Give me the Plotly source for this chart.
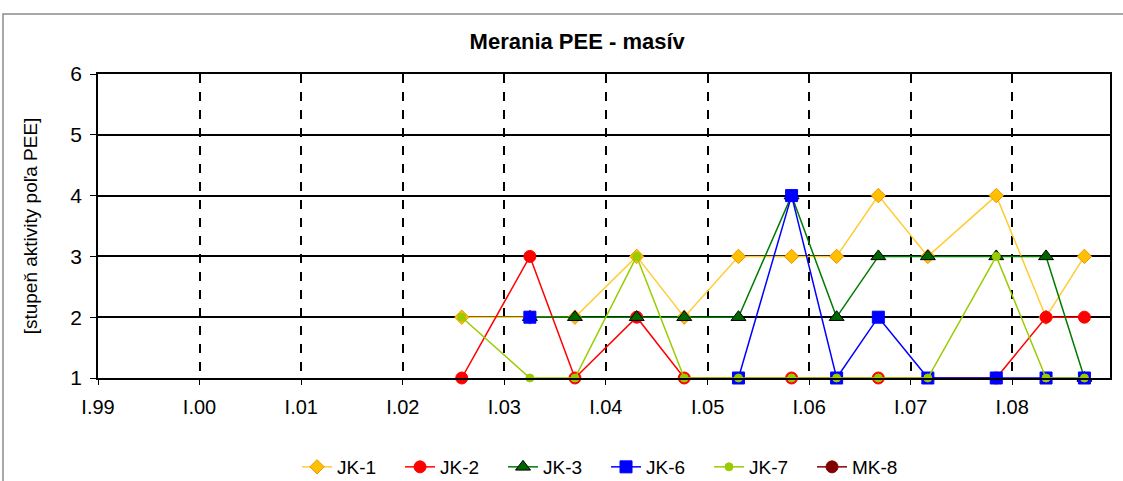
import plotly.graph_objects as go

dates = ['2002-08-01', '2003-04-03', '2003-09-12', '2004-04-21', '2004-10-09',
         '2005-04-22', '2005-10-30', '2006-04-10', '2006-09-07', '2007-03-04',
         '2007-11-05', '2008-05-02', '2008-09-17']
jk1 = [2, 2, 2, 3, 2, 3, 3, 3, 4, 3, 4, 2, 3]
jk2 = [1, 3, 1, 2, 1, None, 1, None, 1, None, 1, 2, 2]
jk3 = [None, 2, 2, 2, 2, 2, 4, 2, 3, 3, 3, 3, 1]
jk6 = [None, 2, None, None, None, 1, 4, 1, 2, 1, 1, 1, 1]
jk7 = [2, 1, 1, 3, 1, 1, 1, 1, 1, 1, 3, 1, 1]
mk8 = [None] * 13

tick_vals = ['1999-01-01', '2000-01-01', '2001-01-01', '2002-01-01', '2003-01-01',
             '2004-01-01', '2005-01-01', '2006-01-01', '2007-01-01', '2008-01-01']
tick_text = ['I.99', 'I.00', 'I.01', 'I.02', 'I.03', 'I.04', 'I.05', 'I.06', 'I.07', 'I.08']

FONT = "Arial, 'Liberation Sans', sans-serif"

fig = go.Figure()

def add(name, y, line_color, symbol, fill, outline, size, connect=False):
    fig.add_trace(go.Scatter(
        x=dates, y=y, name=name, mode='lines+markers', connectgaps=connect,
        line=dict(color=line_color, width=1.5),
        marker=dict(symbol=symbol, color=fill, size=size, line=dict(color=outline, width=1)),
        cliponaxis=False))

add('JK-1', jk1, '#FFCC33', 'diamond', '#FFC000', '#F09000', 11)
add('JK-2', jk2, '#FF0000', 'circle', '#FF0000', '#FF0000', 12, connect=True)
add('JK-3', jk3, '#007A00', 'triangle-up', '#006600', '#000000', 13)
add('JK-6', jk6, '#0000FF', 'square', '#0000FF', '#0000FF', 12)
add('JK-7', jk7, '#99CC00', 'circle', '#99CC00', '#99CC00', 8)
add('MK-8', mk8, '#800000', 'circle', '#800000', '#800000', 12)

fig.update_layout(
    width=1123, height=481,
    margin=dict(l=98, r=13, t=74, b=103, autoexpand=False),
    paper_bgcolor='white', plot_bgcolor='white',
    font=dict(family=FONT, color='#000000'),
    title=dict(text='<b>Merania PEE - masív</b>', x=0.514, xanchor='center',
               y=1 - 41 / 481, yanchor='middle', font=dict(size=22, family=FONT)),
    showlegend=True,
    legend=dict(orientation='h', x=0.502, xanchor='center', yref='container',
                y=1 - 467 / 481, yanchor='middle',
                font=dict(size=19, family=FONT), bgcolor='rgba(0,0,0,0)',
                entrywidth=58, tracegroupgap=0),
    xaxis=dict(type='date', range=['1999-01-01', '2008-12-18'],
               tickvals=tick_vals, ticktext=tick_text,
               tickfont=dict(size=20, family=FONT, color='#000000'),
               ticklabelstandoff=5,
               showgrid=True, gridcolor='#000000', gridwidth=1.5, griddash='dash',
               showline=True, linecolor='#000000', linewidth=1.5, mirror=True,
               ticks='outside', ticklen=5, tickcolor='#000000', zeroline=False,
               automargin=False),
    yaxis=dict(range=[1, 6], tickvals=[1, 2, 3, 4, 5, 6],
               tickfont=dict(size=21, family=FONT, color='#000000'),
               ticklabelstandoff=4,
               showgrid=True, gridcolor='#000000', gridwidth=1.5,
               showline=True, linecolor='#000000', linewidth=1.5, mirror=True,
               ticks='outside', ticklen=6, tickcolor='#000000', zeroline=False,
               automargin=False,
               title=dict(text='[stupeň aktivity poľa PEE]', standoff=28,
                          font=dict(size=19, family=FONT))),
)

fig.add_shape(type='rect', xref='paper', yref='paper',
              x0=(3 - 98) / 1012, x1=(1130 - 98) / 1012,
              y0=(378 - 490) / 304, y1=(378 - 14) / 304,
              line=dict(color='#8C8C8C', width=1.5), fillcolor='rgba(0,0,0,0)', layer='below')

fig.write_html('out.html', config={'displayModeBar': False},
               post_script="document.body.style.margin='0';document.body.style.overflow='hidden';")
